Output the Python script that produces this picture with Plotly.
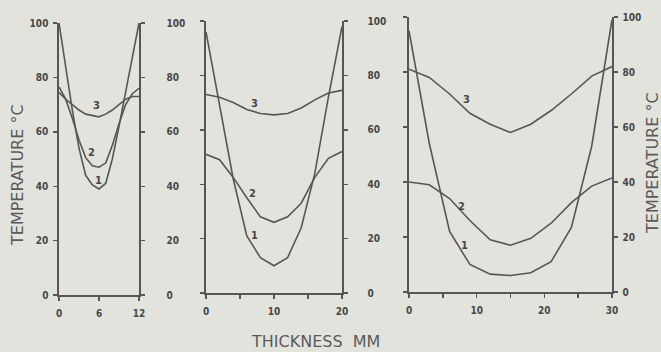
import plotly.graph_objects as go

# ---- data ----
# Panel A: 12 mm thickness
xa = [0, 1, 2, 3, 4, 5, 6, 7, 8, 9, 10, 11, 12]
a1 = [100, 84, 68, 54, 44, 40.5, 39, 41, 50, 62, 75, 88, 100]
a2 = [76.5, 72, 65, 57, 50.5, 47.5, 47, 48.5, 55, 63, 70, 74, 76]
a3 = [74.5, 72, 70, 68, 66.5, 66, 65.5, 66.5, 68, 70, 72, 73, 73]

# Panel B: 20 mm thickness
xb = [0, 2, 4, 6, 8, 10, 12, 14, 16, 18, 20]
b1 = [96, 69, 42, 21, 13, 10, 13, 24, 44, 72, 98]
b2 = [51, 49, 42.5, 35, 28, 26, 28, 33, 42.5, 49.5, 52]
b3 = [73, 72, 70, 67.5, 66, 65.5, 66, 68, 71, 73.5, 74.5]

# Panel C: 30 mm thickness
xc = [0, 3, 6, 9, 12, 15, 18, 21, 24, 27, 30]
c1 = [95, 54, 22, 10, 6.5, 6, 7, 11, 23.5, 53, 99]
c2 = [40, 39, 34, 26, 19, 17, 19.5, 25, 32.5, 38.5, 41.5]
c3 = [81, 78, 72, 65, 61, 58, 61, 66, 72, 78.5, 82]

yticks = [0, 20, 40, 60, 80, 100]
xticks_a = [0, 6, 12]
xticks_b = [0, 5, 10, 15, 20]
xticks_c = [0, 5, 10, 15, 20, 25, 30]
xtext_b = ["0", "", "10", "", "20"]
xtext_c = ["0", "", "10", "", "20", "", "30"]

# curve-number labels (x, T)
labels_a = [("3", 5.6, 69.5), ("2", 4.9, 52.5), ("1", 5.9, 42)]
labels_b = [("3", 7.1, 69.5), ("2", 6.8, 36.5), ("1", 7.1, 21)]
labels_c = [("3", 8.5, 70), ("2", 7.8, 31), ("1", 8.2, 17)]

# ---- style ----
BG = "#e3e3dd"
LINE = "#565656"
TXT = "#474747"
TICKFONT = dict(family="DejaVu Sans Condensed, DejaVu Sans", size=10, color=TXT, weight="bold")

fig = go.Figure()

def add_panel(xs, series, xax, yaxes):
    for s, yax in zip(series, yaxes):
        fig.add_trace(go.Scatter(x=xs, y=s, xaxis=xax, yaxis=yax, mode="lines",
                                 line=dict(color=LINE, width=1.6), showlegend=False,
                                 hoverinfo="skip", cliponaxis=False))

add_panel(xa, [a1, a2, a3], "x", ["y", "y", "y2"])
add_panel(xb, [b1, b2, b3], "x2", ["y3", "y3", "y4"])
add_panel(xc, [c1, c2, c3], "x3", ["y5", "y5", "y6"])

W, H = 661, 352
def dx(a, b):
    return [a / W, b / W]
def dy(top, bot):
    return [1 - bot / H, 1 - top / H]

common_x = dict(showline=True, linecolor=LINE, linewidth=1.6, ticks="outside", ticklen=4,
                tickcolor=LINE, tickwidth=1.4, showgrid=False, zeroline=False,
                tickfont=TICKFONT, ticklabelstandoff=4, automargin=False)
common_y = dict(range=[0, 100], tickvals=yticks, showline=True, linecolor=LINE, linewidth=1.6,
                ticks="outside", ticklen=4, tickcolor=LINE, tickwidth=1.4, showgrid=False,
                zeroline=False, tickfont=TICKFONT, automargin=False)

fig.update_layout(
    width=W, height=H, margin=dict(l=0, r=0, t=0, b=0),
    paper_bgcolor=BG, plot_bgcolor=BG,
    xaxis=dict(domain=dx(59, 139), range=[0, 12], tickvals=xticks_a, anchor="y", **common_x),
    yaxis=dict(domain=dy(23, 295), anchor="x", ticklabelstandoff=3, **common_y),
    yaxis2=dict(domain=dy(23, 295), overlaying="y", side="right", anchor="x",
                ticklabelstandoff=20, **common_y),
    xaxis2=dict(domain=dx(206, 342), range=[0, 20], tickvals=xticks_b,
                ticktext=xtext_b, anchor="y3", **common_x),
    yaxis3=dict(domain=dy(21, 293), anchor="x2", showticklabels=False, **common_y),
    yaxis4=dict(domain=dy(21, 293), overlaying="y3", side="right", anchor="x2",
                ticklabelstandoff=18, **common_y),
    xaxis3=dict(domain=dx(409, 612), range=[0, 30], tickvals=xticks_c,
                ticktext=xtext_c, anchor="y5", **common_x),
    yaxis5=dict(domain=dy(17, 292), anchor="x3", showticklabels=False, **common_y),
    yaxis6=dict(domain=dy(17, 292), overlaying="y5", side="right", anchor="x3",
                ticklabelstandoff=3, **common_y),
)

ann = []
for lab, xr, yr in [(labels_a, "x", "y"), (labels_b, "x2", "y3"), (labels_c, "x3", "y5")]:
    for t, xv, yv in lab:
        ann.append(dict(text=t, x=xv, y=yv, xref=xr, yref=yr, showarrow=False,
                        font=dict(family="DejaVu Sans Condensed, DejaVu Sans", size=11,
                                  color=TXT, weight="bold")))
TITLEFONT = dict(family="DejaVu Sans", size=16, color="#5a5a5a")
ann.append(dict(text="TEMPERATURE °C", x=18 / W, y=1 - 175 / H, xref="paper", yref="paper",
                xanchor="center", yanchor="middle",
                showarrow=False, textangle=-90, font=TITLEFONT))
ann.append(dict(text="TEMPERATURE °C", x=652 / W, y=1 - 163 / H, xref="paper", yref="paper",
                xanchor="center", yanchor="middle",
                showarrow=False, textangle=-90, font=TITLEFONT))
ann.append(dict(text="THICKNESS  MM", x=315 / W, y=1 - 341 / H, xref="paper", yref="paper",
                xanchor="center", yanchor="middle",
                showarrow=False, font=dict(family="DejaVu Sans", size=16, color="#5a5a5a")))
fig.update_layout(annotations=ann)

fig.write_html(
    "out.html",
    config={"displayModeBar": False, "staticPlot": True},
    post_script="document.body.style.margin='0';document.body.style.overflow='hidden';"
                "document.body.style.background='" + BG + "';",
)
